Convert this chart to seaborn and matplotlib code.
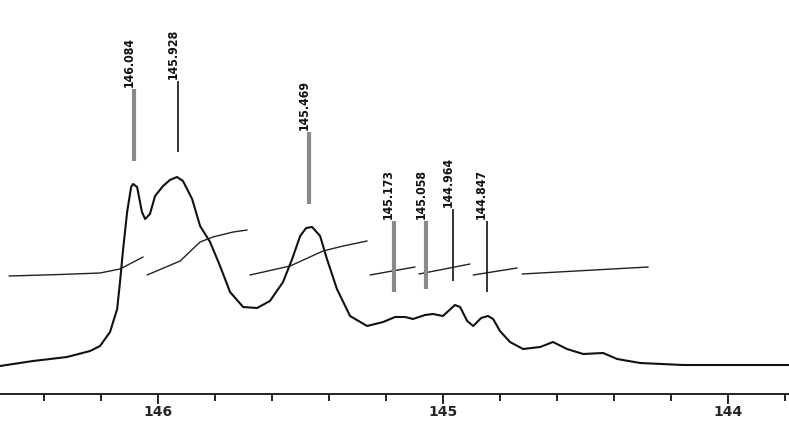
import matplotlib
matplotlib.use("Agg")
import matplotlib.pyplot as plt
import numpy as np
import pandas as pd
import seaborn as sns

# spectrum trace (ppm, intensity above the axis line)
spec_ppm = [146.554, 146.438, 146.319, 146.238, 146.203, 146.168, 146.143, 146.133,
            146.122, 146.108, 146.094, 146.087, 146.073, 146.056, 146.045, 146.028,
            146.010, 145.982, 145.958, 145.933, 145.912, 145.880, 145.852, 145.817,
            145.782, 145.747, 145.701, 145.652, 145.607, 145.561, 145.529, 145.501,
            145.480, 145.459, 145.431, 145.407, 145.372, 145.326, 145.266, 145.210,
            145.168, 145.133, 145.105, 145.063, 145.035, 145.000, 144.958, 144.940,
            144.915, 144.894, 144.866, 144.842, 144.824, 144.800, 144.765, 144.719,
            144.659, 144.614, 144.565, 144.508, 144.438, 144.389, 144.308, 144.158,
            143.982, 143.786]
spec_int = [28, 33, 37, 43, 48, 62, 85, 112,
            145, 182, 207, 210, 207, 182, 175, 180,
            198, 208, 214, 217, 213, 195, 168, 152,
            128, 102, 87, 86, 93, 112, 135, 158,
            166, 167, 158, 135, 105, 78, 68, 72,
            77, 77, 75, 79, 80, 78, 89, 87,
            73, 68, 76, 78, 75, 63, 52, 45,
            47, 52, 45, 40, 41, 35, 31, 29,
            29, 29]

# integral curves, one list per segment
integral_ppm = [
    [146.522, 146.343, 146.203, 146.133, 146.052],
    [146.038, 145.922, 145.852, 145.807, 145.736, 145.687],
    [145.677, 145.536, 145.421, 145.350, 145.266],
    [145.256, 145.098],
    [145.084, 144.905],
    [144.894, 144.740],
    [144.722, 144.280],
]
integral_int = [
    [118, 119.5, 121, 125, 137],
    [119, 133, 152, 157, 162, 164],
    [119, 128, 143, 148, 153],
    [119, 127],
    [120, 130],
    [119, 126],
    [120, 127],
]

# peak picking labels
peak_ppm = [146.084, 145.928, 145.469, 145.173, 145.058, 144.964, 144.847]
peak_labels = ["146.084", "145.928", "145.469", "145.173", "145.058", "144.964", "144.847"]
peak_top = [305, 313, 262, 173, 173, 185, 173]
peak_bottom = [233, 242, 190, 102, 105, 113, 102]
peak_gray = [True, False, True, True, True, False, False]

major_ticks = [146, 145, 144]
minor_ticks = [146.4, 146.2, 145.8, 145.6, 145.4, 145.2, 144.8, 144.6, 144.4, 144.2, 143.8]

sns.set_theme(style="white")

fig = plt.figure(figsize=(7.89, 4.22), dpi=100)
ax = fig.add_axes([0, 28 / 422, 1, 394 / 422])

spec = pd.DataFrame({"ppm": spec_ppm, "intensity": spec_int})
sns.lineplot(data=spec, x="ppm", y="intensity", sort=False, color="#111111",
             linewidth=1.5, ax=ax)

rows = []
for i, (xs, ys) in enumerate(zip(integral_ppm, integral_int)):
    for x, y in zip(xs, ys):
        rows.append({"seg": i, "ppm": x, "intensity": y})
integ = pd.DataFrame(rows)
sns.lineplot(data=integ, x="ppm", y="intensity", units="seg", estimator=None,
             sort=False, color="#222222", linewidth=1.0, ax=ax)

for p, lab, top, bot, gray in zip(peak_ppm, peak_labels, peak_top, peak_bottom, peak_gray):
    ax.plot([p, p], [bot, top], color="#8a8a8a" if gray else "#111111",
            linewidth=3.0 if gray else 1.2, solid_capstyle="butt")
    ax.annotate(lab, xy=(p, top), xytext=(-3.5, 1.5), textcoords="offset points",
                rotation=90, ha="center", va="bottom", fontsize=8.8,
                fontweight="bold", fontstretch="condensed", color="#111111",
                family=["DejaVu Sans"])

ax.set_xlim(146.554, 143.786)
ax.set_ylim(0, 394)

for s in ["left", "right", "top"]:
    ax.spines[s].set_visible(False)
ax.spines["bottom"].set_color("#111111")
ax.spines["bottom"].set_linewidth(1.3)

ax.set_xticks(major_ticks)
ax.set_xticklabels([str(t) for t in major_ticks], fontsize=10, fontweight="bold",
                   family="DejaVu Sans")
ax.set_xticks(minor_ticks, minor=True)
ax.tick_params(axis="x", which="major", direction="out", length=7, width=1.3,
               color="#111111", pad=1, bottom=True)
ax.tick_params(axis="x", which="minor", direction="out", length=5, width=1.3,
               color="#111111", bottom=True)
ax.set_yticks([])
ax.set_xlabel("")
ax.set_ylabel("")

fig.savefig("out.png", dpi=100)
